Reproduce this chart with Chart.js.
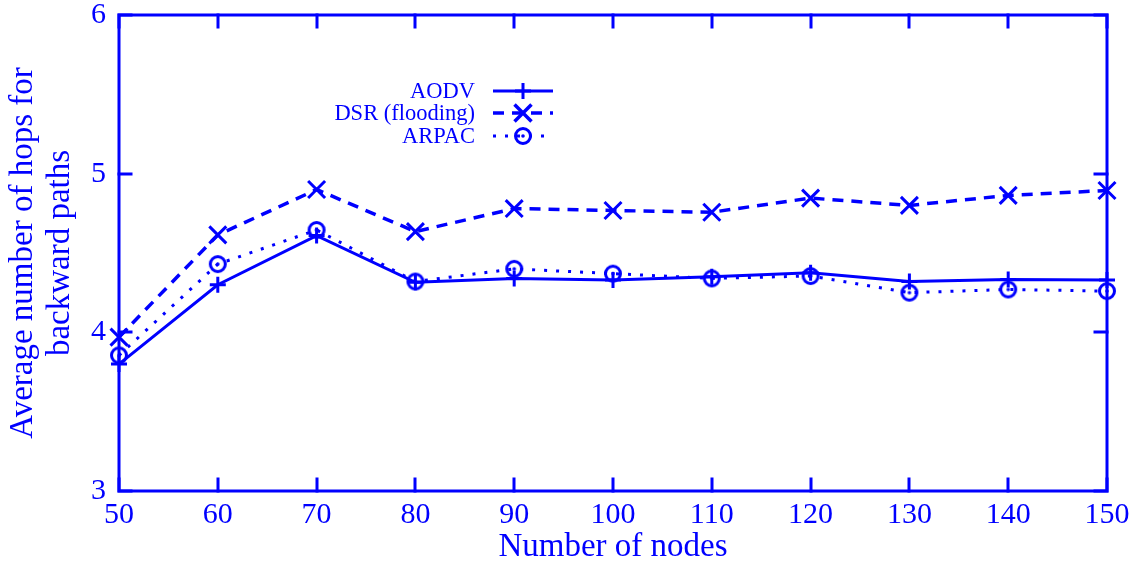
<!DOCTYPE html>
<html>
<head>
<meta charset="utf-8">
<script src="https://cdn.jsdelivr.net/npm/chart.js@4/dist/chart.umd.min.js"></script>
<style>
  html, body { margin: 0; padding: 0; background: #fff; }
  #wrap { width: 1144px; height: 564px; }
</style>
</head>
<body>
<div id="wrap"><canvas id="hopsChart" width="1144" height="564"></canvas></div>
<script>
// node counts on the x axis
const nodes = [50, 60, 70, 80, 90, 100, 110, 120, 130, 140, 150];
// average hop count of backward paths per protocol
const aodv  = [3.80, 4.30, 4.61, 4.315, 4.34, 4.33, 4.35, 4.375, 4.32, 4.333, 4.33];
const dsr   = [3.97, 4.614, 4.90, 4.635, 4.78, 4.768, 4.757, 4.846, 4.80, 4.863, 4.894];
const arpac = [3.855, 4.43, 4.645, 4.32, 4.40, 4.37, 4.34, 4.355, 4.25, 4.27, 4.26];
const xTicks = [50, 60, 70, 80, 90, 100, 110, 120, 130, 140, 150];
const yTicks = [3, 4, 5, 6];

const BLUE = '#0000ff';
const SERIF = '"Liberation Serif", "DejaVu Serif", serif';

// circle-with-dot marker used for ARPAC
function dotCircle() {
    const c = document.createElement('canvas');
    c.width = 22; c.height = 22;
    const g = c.getContext('2d');
    g.strokeStyle = BLUE;
    g.fillStyle = BLUE;
    g.lineWidth = 3;
    g.beginPath();
    g.arc(11, 11, 7.5, 0, Math.PI * 2);
    g.stroke();
    g.beginPath();
    g.arc(11, 11, 1.8, 0, Math.PI * 2);
    g.fill();
    return c;
}
const circleMark = dotCircle();

const toPoints = (ys) => nodes.map((n, i) => ({ x: n, y: ys[i] }));

const series = [
    { label: 'AODV', data: toPoints(aodv), dash: [], style: 'cross', radius: 8, width: 3 },
    { label: 'DSR (flooding)', data: toPoints(dsr), dash: [11, 8], style: 'crossRot', radius: 12, width: 3.5 },
    { label: 'ARPAC', data: toPoints(arpac), dash: [3, 9], style: circleMark, radius: 9, width: 3 }
];

// box around the plot with inward tick marks on every side
const framePlugin = {
    id: 'frame',
    afterDatasetsDraw(chart) {
        const { ctx, chartArea: a, scales: { x, y } } = chart;
        ctx.save();
        ctx.strokeStyle = BLUE;
        ctx.lineWidth = 3;
        ctx.lineCap = 'square';
        ctx.strokeRect(a.left, a.top, a.right - a.left, a.bottom - a.top);
        const len = 12;
        ctx.beginPath();
        xTicks.forEach(v => {
            const px = Math.round(x.getPixelForValue(v));
            ctx.moveTo(px, a.bottom); ctx.lineTo(px, a.bottom - len);
            ctx.moveTo(px, a.top); ctx.lineTo(px, a.top + len);
        });
        yTicks.forEach(v => {
            const py = Math.round(y.getPixelForValue(v));
            ctx.moveTo(a.left, py); ctx.lineTo(a.left + len, py);
            ctx.moveTo(a.right, py); ctx.lineTo(a.right - len, py);
        });
        ctx.stroke();
        ctx.restore();
    }
};

// key in the upper left: labels right-aligned, then line sample with marker
const keyPlugin = {
    id: 'key',
    afterDraw(chart) {
        const { ctx } = chart;
        const textRight = 475, x0 = 493, x1 = 553, rows = [91, 113, 136];
        ctx.save();
        ctx.font = '22.5px ' + SERIF;
        ctx.fillStyle = BLUE;
        ctx.textAlign = 'right';
        ctx.textBaseline = 'middle';
        chart.data.datasets.forEach((ds, i) => {
            const yy = rows[i];
            ctx.fillText(ds.label, textRight, yy + 1);
            ctx.strokeStyle = BLUE;
            ctx.lineWidth = ds.borderWidth;
            ctx.setLineDash(ds.borderDash);
            ctx.beginPath();
            ctx.moveTo(x0, yy); ctx.lineTo(x1, yy);
            ctx.stroke();
            ctx.setLineDash([]);
            Chart.helpers.drawPoint(ctx, {
                pointStyle: ds.pointStyle,
                radius: ds.pointRadius,
                borderWidth: ds.pointBorderWidth,
                rotation: 0
            }, (x0 + x1) / 2, yy);
        });
        ctx.restore();
    }
};

new Chart(document.getElementById('hopsChart'), {
    type: 'line',
    data: {
        datasets: series.map(s => ({
            label: s.label,
            data: s.data,
            borderColor: BLUE,
            backgroundColor: BLUE,
            borderWidth: s.width,
            borderDash: s.dash,
            borderCapStyle: 'butt',
            pointStyle: s.style,
            pointRadius: s.radius,
            pointBorderWidth: 3,
            pointBorderColor: BLUE,
            pointBackgroundColor: 'rgba(0,0,0,0)',
            tension: 0,
            fill: false,
            clip: false
        }))
    },
    options: {
        responsive: false,
        animation: false,
        devicePixelRatio: 1,
        layout: { padding: { top: 15, right: 37, left: 0, bottom: 0 } },
        plugins: {
            legend: { display: false },
            tooltip: { enabled: false }
        },
        scales: {
            x: {
                type: 'linear',
                min: 50,
                max: 150,
                afterFit: (s) => { s.height = 73; s.paddingLeft = 0; s.paddingRight = 0; },
                afterBuildTicks: (s) => { s.ticks = xTicks.map(v => ({ value: v })); },
                grid: { display: false, drawTicks: false },
                border: { display: false },
                ticks: {
                    color: BLUE,
                    padding: 6,
                    maxRotation: 0,
                    font: { family: SERIF, size: 30 }
                },
                title: {
                    display: true,
                    text: 'Number of nodes',
                    color: BLUE,
                    padding: { top: 4, bottom: 0 },
                    font: { family: SERIF, size: 33, lineHeight: 1.0 }
                }
            },
            y: {
                min: 3,
                max: 6,
                afterFit: (s) => { s.width = 119; s.paddingTop = 0; s.paddingBottom = 0; },
                afterBuildTicks: (s) => { s.ticks = yTicks.map(v => ({ value: v })); },
                grid: { display: false, drawTicks: false },
                border: { display: false },
                ticks: {
                    color: BLUE,
                    padding: 13,
                    font: { family: SERIF, size: 30 }
                },
                title: {
                    display: true,
                    text: ['Average number of hops for', 'backward paths'],
                    color: BLUE,
                    padding: { top: 5, bottom: 0 },
                    font: { family: SERIF, size: 33, lineHeight: 1.12 }
                }
            }
        }
    },
    plugins: [framePlugin, keyPlugin]
});
</script>
</body>
</html>
